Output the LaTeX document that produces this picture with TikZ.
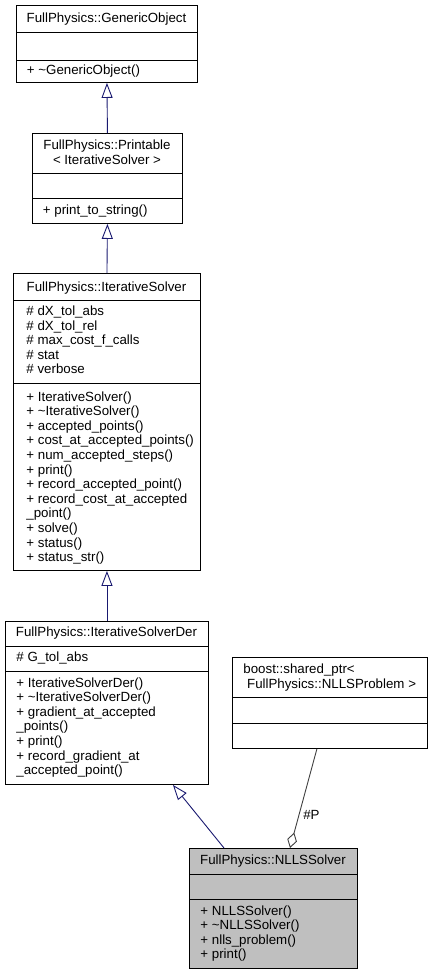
\documentclass[tikz,border=0pt]{standalone}
\usepackage{fontspec}
\setmainfont{Liberation Sans}
\usepackage{tikz}
\usetikzlibrary{arrows.meta}
\definecolor{inhblue}{HTML}{191970}
\definecolor{aggrgray}{HTML}{404040}
\definecolor{boxgray}{HTML}{BFBFBF}
\tikzset{every path/.style={line width=0.9pt}}
\tikzset{
  classbox/.style={draw=black, fill=white, anchor=north west, inner sep=0pt},
  lbl/.style={font=\fontsize{13.3}{14.6}\selectfont, inner sep=0pt},
  members/.style={lbl, align=left, anchor=north west},
  inherit/.style={draw=inhblue, -{Triangle[open,length=15pt,width=11pt]}},
  aggr/.style={draw=aggrgray, -{Diamond[open,length=16pt,width=10pt]}},
}

\begin{document}
\begin{tikzpicture}[x=1pt,y=-1pt]
\useasboundingbox (0,0) rectangle (432,975);
% GenericObject
\node[classbox, minimum width=181pt, minimum height=77pt] (generic) at (16,5) {};
\draw (16,32) -- (197,32);
\draw (16,60) -- (197,60);
\node[lbl,anchor=base] (genericname) at (106.5,22) {FullPhysics::GenericObject};
\node[members] (genericops) at (26.5,64.4) {+ \textasciitilde GenericObject()};
% Printable
\node[classbox, minimum width=150pt, minimum height=90pt] (printable) at (32,133) {};
\draw (32,173) -- (182,173);
\draw (32,198) -- (182,198);
\node[lbl,align=center,anchor=north] (printablename) at (107,139.9) {FullPhysics::Printable\\< IterativeSolver >};
\node[members] (printableops) at (42.5,204.4) {+ print\_to\_string()};
% IterativeSolver
\node[classbox, minimum width=187pt, minimum height=297pt] (solver) at (13,273) {};
\draw (13,300) -- (200,300);
\draw (13,383) -- (200,383);
\node[lbl,anchor=base] (solvername) at (106.5,291) {FullPhysics::IterativeSolver};
\node[members] (solverattr) at (26,305.4) {\# dX\_tol\_abs\\\# dX\_tol\_rel\\\# max\_cost\_f\_calls\\\# stat\\\# verbose};
\node[members] (solverops) at (26,391) {+ IterativeSolver()\\+ \textasciitilde IterativeSolver()\\+ accepted\_points()\\+ cost\_at\_accepted\_points()\\+ num\_accepted\_steps()\\+ print()\\+ record\_accepted\_point()\\+ record\_cost\_at\_accepted\\\_point()\\+ solve()\\+ status()\\+ status\_str()};
% IterativeSolverDer
\node[classbox, minimum width=203pt, minimum height=163pt] (der) at (5,621) {};
\draw (5,646) -- (208,646);
\draw (5,671) -- (208,671);
\node[lbl,anchor=base] (dername) at (106.5,636) {FullPhysics::IterativeSolverDer};
\node[members] (derattr) at (16,651.4) {\# G\_tol\_abs};
\node[members] (derops) at (16,677) {+ IterativeSolverDer()\\+ \textasciitilde IterativeSolverDer()\\+ gradient\_at\_accepted\\\_points()\\+ print()\\+ record\_gradient\_at\\\_accepted\_point()};
% shared_ptr
\node[classbox, minimum width=195pt, minimum height=91pt] (shared) at (232,657) {};
\draw (232,697) -- (427,697);
\draw (232,723) -- (427,723);
\node[members] (sharedname) at (243,663.4) {boost::shared\_ptr<\\\hspace*{3.7pt}FullPhysics::NLLSProblem >};
% NLLSSolver
\node[classbox, fill=boxgray, minimum width=168pt, minimum height=120pt] (nlls) at (189,848) {};
\draw (189,874) -- (357,874);
\draw (189,899) -- (357,899);
\node[lbl,anchor=base] (nllsname) at (273,864) {FullPhysics::NLLSSolver};
\node[members] (nllsops) at (200,905) {+ NLLSSolver()\\+ \textasciitilde NLLSSolver()\\+ nlls\_problem()\\+ print()};
% connectors
\draw[inherit] (printable.north) -- (generic.south);
\draw[inherit] (solver.north) -- (printable.south);
\draw[inherit] (der.north) -- (solver.south);
\draw[inherit] ([xshift=35pt]nlls.north west) -- ([xshift=-36pt]der.south east);
\draw[aggr] ([xshift=-111pt]shared.south east) -- node[lbl,pos=0.67,right=4pt] (pname) {\#P} ([xshift=101pt]nlls.north west);
\end{tikzpicture}
\end{document}
